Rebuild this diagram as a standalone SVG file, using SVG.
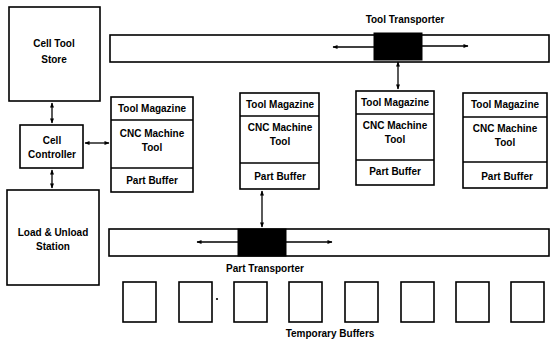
<svg xmlns="http://www.w3.org/2000/svg" width="554" height="341" viewBox="0 0 554 341">
<defs>
<style>
.box{fill:#fff;stroke:#000;stroke-width:1.6}
.ln{fill:none;stroke:#000;stroke-width:1.3}
.blk{fill:#000;stroke:#000}
text{font-family:"Liberation Sans",Arial,sans-serif;font-weight:bold;font-size:10px;fill:#000;text-anchor:middle}
</style>
<marker id="ah" viewBox="0 0 10 10" refX="9" refY="5" markerWidth="6" markerHeight="5" orient="auto-start-reverse" markerUnits="userSpaceOnUse">
<path d="M0,1 L10,5 L0,9 Z" fill="#000"/>
</marker>
</defs>
<rect width="554" height="341" fill="#fff"/>

<g id="cell-tool-store">
<rect class="box" x="9" y="7" width="91" height="94"/>
<text x="54" y="47">Cell Tool</text>
<text x="54" y="63">Store</text>
</g>

<g id="cell-controller">
<rect class="box" x="20" y="125" width="63" height="43"/>
<text x="52" y="144">Cell</text>
<text x="52" y="158">Controller</text>
</g>

<g id="load-unload-station">
<rect class="box" x="7" y="190" width="92" height="95"/>
<text x="53" y="236">Load &amp; Unload</text>
<text x="53" y="250">Station</text>
</g>

<g id="tool-transporter">
<rect class="box" x="110" y="35" width="439" height="27"/>
<rect class="blk" x="374" y="33" width="48" height="27"/>
<text x="405" y="23">Tool Transporter</text>
</g>

<g id="machine-1">
<rect class="box" x="111" y="97" width="82" height="95"/>
<line class="ln" x1="111" y1="120" x2="193" y2="120"/>
<line class="ln" x1="111" y1="168" x2="193" y2="168"/>
<text x="152" y="112">Tool Magazine</text>
<text x="152" y="137">CNC Machine</text>
<text x="152" y="151">Tool</text>
<text x="152" y="184">Part Buffer</text>
</g>

<g id="machine-2">
<rect class="box" x="240" y="93" width="79" height="96"/>
<line class="ln" x1="240" y1="116" x2="319" y2="116"/>
<line class="ln" x1="240" y1="163" x2="319" y2="163"/>
<text x="280" y="108">Tool Magazine</text>
<text x="280" y="131">CNC Machine</text>
<text x="280" y="145">Tool</text>
<text x="280" y="180">Part Buffer</text>
</g>

<g id="machine-3">
<rect class="box" x="356" y="91" width="78" height="94"/>
<line class="ln" x1="356" y1="114" x2="434" y2="114"/>
<line class="ln" x1="356" y1="160" x2="434" y2="160"/>
<text x="395" y="106">Tool Magazine</text>
<text x="395" y="129">CNC Machine</text>
<text x="395" y="143">Tool</text>
<text x="395" y="175">Part Buffer</text>
</g>

<g id="machine-4">
<rect class="box" x="463" y="93" width="84" height="95"/>
<line class="ln" x1="463" y1="117" x2="547" y2="117"/>
<line class="ln" x1="463" y1="162" x2="547" y2="162"/>
<text x="505" y="108">Tool Magazine</text>
<text x="505" y="132">CNC Machine</text>
<text x="505" y="146">Tool</text>
<text x="507" y="180">Part Buffer</text>
</g>

<g id="part-transporter">
<rect class="box" x="109" y="229" width="440" height="27"/>
<rect class="blk" x="238" y="229" width="48" height="27"/>
<text x="265" y="272">Part Transporter</text>
</g>

<g id="temporary-buffers">
<rect class="box" x="123" y="282" width="33" height="40"/>
<rect class="box" x="179" y="282" width="33" height="40"/>
<rect class="box" x="234" y="282" width="33" height="40"/>
<rect class="box" x="289" y="282" width="33" height="40"/>
<rect class="box" x="345" y="282" width="33" height="40"/>
<rect class="box" x="401" y="282" width="33" height="40"/>
<rect class="box" x="456" y="282" width="33" height="40"/>
<rect class="box" x="511" y="282" width="33" height="40"/>
<circle cx="217" cy="299" r="1.1" fill="#000"/>
<text x="330" y="337">Temporary Buffers</text>
</g>

<g id="connectors">
<line class="ln" x1="52" y1="103" x2="52" y2="123" marker-start="url(#ah)" marker-end="url(#ah)"/>
<line class="ln" x1="52" y1="170" x2="52" y2="188" marker-start="url(#ah)" marker-end="url(#ah)"/>
<line class="ln" x1="85" y1="143" x2="109" y2="143" marker-start="url(#ah)" marker-end="url(#ah)"/>
<line class="ln" x1="398" y1="62" x2="398" y2="89" marker-start="url(#ah)" marker-end="url(#ah)"/>
<line class="ln" x1="262" y1="191" x2="262" y2="227" marker-start="url(#ah)" marker-end="url(#ah)"/>
<line class="ln" x1="374" y1="47" x2="333" y2="47" marker-end="url(#ah)"/>
<line class="ln" x1="422" y1="46" x2="468" y2="46" marker-end="url(#ah)"/>
<line class="ln" x1="238" y1="242" x2="197" y2="242" marker-end="url(#ah)"/>
<line class="ln" x1="286" y1="242" x2="332" y2="242" marker-end="url(#ah)"/>
</g>
</svg>
